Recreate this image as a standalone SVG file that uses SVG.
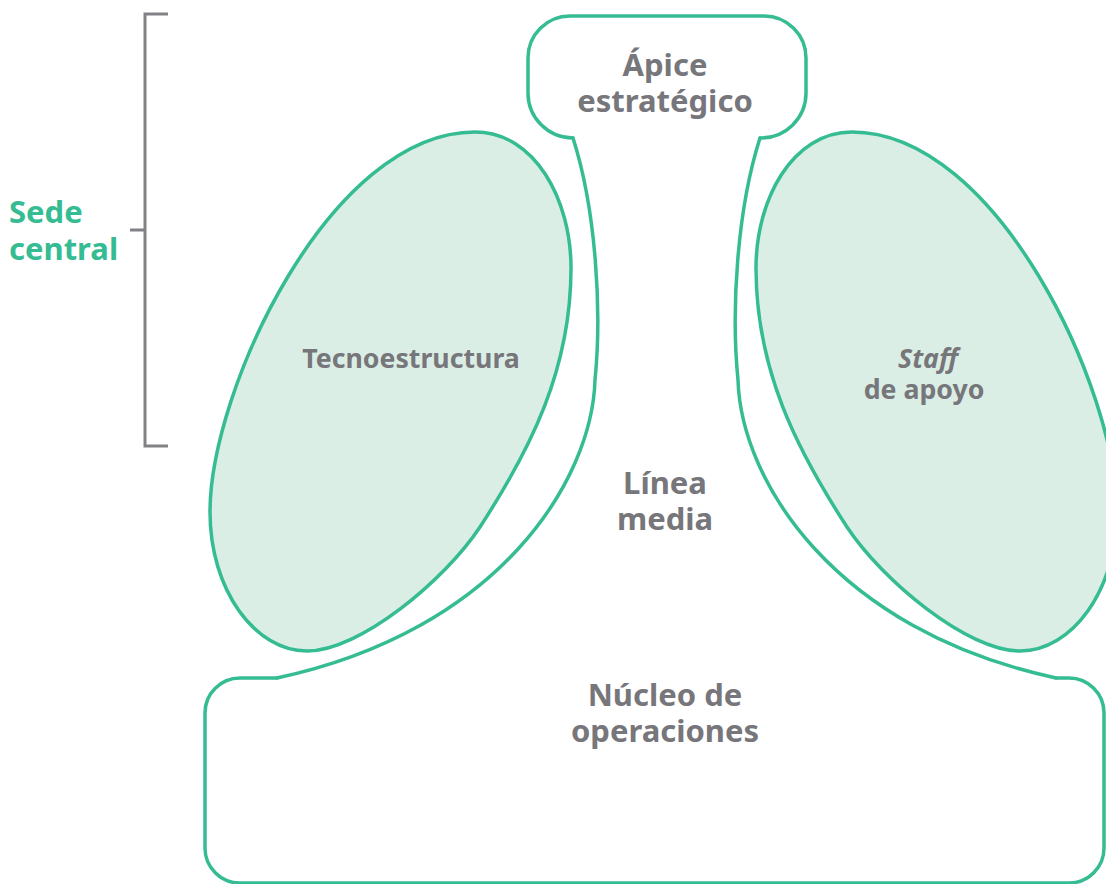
<svg xmlns="http://www.w3.org/2000/svg" width="1106" height="884" viewBox="0 0 1106 884">
  <style>
    .edge { fill: none; stroke: #35bc93; stroke-width: 3.5; stroke-linejoin: round; stroke-linecap: round; }
    .part { fill: #dbeee5; stroke: #35bc93; stroke-width: 3.5; }
    .label { font-family: "Noto Sans", "Liberation Sans", sans-serif; font-weight: 700; font-size: 31px; fill: #76767b; text-anchor: middle; }
    .small { font-size: 26.7px; }
    .side { font-family: "Noto Sans", "Liberation Sans", sans-serif; font-weight: 700; font-size: 31px; fill: #35bc93; }
    .bracket { fill: none; stroke: #818186; stroke-width: 3; }
  </style>

  <rect width="1106" height="884" fill="#ffffff"/>

  <!-- Strategic apex: rounded box open at the bottom where the middle line joins -->
  <g id="apice">
    <path class="edge" d="M 573 138 A 45 45 0 0 1 528 93 L 528 58 A 42 42 0 0 1 570 16 L 764 16 A 42 42 0 0 1 806 58 L 806 93 A 45 45 0 0 1 760 138"/>
    <text class="label"><tspan x="665" y="76">Ápice</tspan><tspan x="665" y="112">estratégico</tspan></text>
  </g>

  <!-- Middle line: two curved flanks from the apex down to the operating core -->
  <g id="linea-media">
    <path class="edge" d="M 573 138 C 596 210, 602 310, 595 380 C 592 480, 500 630, 277 678"/>
    <path class="edge" d="M 760 138 C 737 210, 731 310, 738 380 C 741 480, 833 630, 1056 678"/>
    <text class="label"><tspan x="665" y="494">Línea</tspan><tspan x="665" y="530">media</tspan></text>
  </g>

  <!-- Operating core: wide rounded box at the base -->
  <g id="nucleo-operaciones">
    <path class="edge" d="M 277 678 L 240 678 A 35 35 0 0 0 205 713 L 205 848 A 35 35 0 0 0 240 883 L 1069 883 A 35 35 0 0 0 1104 848 L 1104 713 A 35 35 0 0 0 1069 678 L 1056 678"/>
    <text class="label"><tspan x="665" y="706">Núcleo de</tspan><tspan x="665" y="742">operaciones</tspan></text>
  </g>

  <!-- Technostructure: egg-shaped lobe on the left -->
  <g id="tecnoestructura">
    <path class="part" d="M 475 132 C 535 132, 571 200, 571 268 C 571 370, 530 450, 480 527 C 445 580, 360 651, 307 651 C 255 651, 210 590, 210 512 C 210 390, 330 132, 475 132 Z"/>
    <text class="label small" x="411" y="368">Tecnoestructura</text>
  </g>

  <!-- Support staff: mirrored lobe on the right -->
  <g id="staff-de-apoyo">
    <path class="part" d="M 852 132 C 792 132, 756 200, 756 268 C 756 370, 797 450, 847 527 C 882 580, 967 651, 1020 651 C 1072 651, 1117 590, 1117 512 C 1117 390, 997 132, 852 132 Z"/>
    <text class="label small"><tspan x="928" y="368" font-style="italic">Staff</tspan><tspan x="924" y="399">de apoyo</tspan></text>
  </g>

  <!-- Bracket marking the head office span -->
  <g id="connectors">
    <path class="bracket" d="M 168 14 L 145 14 L 145 446 L 168 446 M 130 230 L 145 230"/>
  </g>

  <g id="sede-central">
    <text class="side"><tspan x="9" y="223">Sede</tspan><tspan x="9" y="260">central</tspan></text>
  </g>
</svg>
